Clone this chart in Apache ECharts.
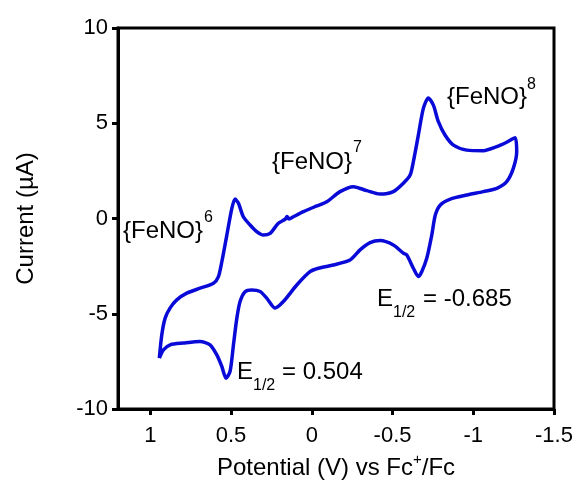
<!DOCTYPE html>
<html>
<head>
<meta charset="utf-8">
<script src="https://cdn.jsdelivr.net/npm/echarts@6/dist/echarts.min.js"></script>
<style>
  html, body { margin: 0; padding: 0; background: #fff; }
  #chart { width: 579px; height: 481px; }
</style>
</head>
<body>
<div id="chart"></div>
<script>
// Cyclic voltammogram: forward sweep (toward negative potential) and return sweep
const forwardPotential = [0.944, 0.929, 0.908, 0.877, 0.836, 0.774, 0.692, 0.609, 0.578, 0.557,
  0.526, 0.495, 0.475, 0.454, 0.424, 0.382, 0.341, 0.300, 0.258, 0.207,
  0.165, 0.153, 0.141, 0.114, 0.052, -0.031, -0.093, -0.175, -0.258, -0.341,
  -0.423, -0.505, -0.567, -0.609, -0.629, -0.660, -0.691, -0.722, -0.753, -0.784,
  -0.825, -0.877, -0.960, -1.063, -1.146, -1.207, -1.259];
const forwardCurrent = [-7.33, -6.11, -5.23, -4.69, -4.27, -3.92, -3.66, -3.40, -3.05, -2.27,
  -0.87, 0.53, 1.02, 0.80, 0.09, -0.34, -0.69, -0.87, -0.78, -0.25,
  -0.04, 0.10, -0.03, 0.09, 0.36, 0.66, 0.88, 1.41, 1.67, 1.46,
  1.28, 1.41, 1.85, 2.28, 2.98, 4.38, 5.78, 6.33, 5.95, 5.08,
  4.38, 3.85, 3.59, 3.56, 3.77, 4.00, 4.24];

const reversePotential = [-1.269, -1.248, -1.207, -1.146, -1.063, -0.960, -0.858, -0.796, -0.765, -0.743,
  -0.712, -0.681, -0.660, -0.629, -0.588, -0.567, -0.505, -0.423, -0.361, -0.299,
  -0.237, -0.134, -0.041, 0.011, 0.093, 0.176, 0.227, 0.279, 0.320, 0.372,
  0.413, 0.444, 0.464, 0.485, 0.506, 0.531, 0.557, 0.588, 0.630, 0.692,
  0.795, 0.877, 0.919, 0.944];
const reverseCurrent = [3.50, 2.63, 1.93, 1.58, 1.41, 1.23, 1.02, 0.71, 0.18, -0.87,
  -2.09, -2.79, -3.05, -2.61, -1.91, -1.82, -1.39, -1.16, -1.27, -1.65,
  -2.18, -2.44, -2.61, -2.79, -3.49, -4.36, -4.70, -4.18, -3.83, -3.75,
  -3.84, -4.36, -5.23, -6.63, -8.03, -8.38, -7.77, -7.16, -6.63, -6.46,
  -6.54, -6.63, -6.90, -7.33];

const xTicks = [-1.5, -1, -0.5, 0, 0.5, 1];
const yTicks = [-10, -5, 0, 5, 10];

const sweep = forwardPotential.map((v, i) => [v, forwardCurrent[i]])
  .concat(reversePotential.map((v, i) => [v, reverseCurrent[i]]));

const FONT = "'Liberation Sans', Arial, Helvetica, sans-serif";
const chart = echarts.init(document.getElementById('chart'), null, { renderer: 'canvas' });

function label(text, left, cy, size) {
  return {
    type: 'text', left: left, top: cy - size / 2,
    style: { text: text, font: size + 'px ' + FONT, fill: '#000', textVerticalAlign: 'top' }
  };
}

chart.setOption({
  animation: false,
  backgroundColor: '#fff',
  grid: {
    left: 118, right: 25, top: 28, bottom: 72,
    outerBoundsMode: 'none', containLabel: false,
    show: true, borderColor: '#000', borderWidth: 3
  },
  xAxis: {
    type: 'value', inverse: true, min: -1.5, max: 1.2, interval: 0.5,
    name: 'Potential (V) vs Fc{sup|+}/Fc', nameLocation: 'middle', nameGap: 40,
    nameTextStyle: {
      fontFamily: FONT, fontSize: 24, color: '#000', lineHeight: 32,
      rich: { sup: { fontFamily: FONT, fontSize: 15, color: '#000', lineHeight: 14, verticalAlign: 'top' } }
    },
    axisLine: { onZero: false, lineStyle: { color: '#000', width: 3 } },
    axisTick: { inside: false, length: 6, lineStyle: { color: '#000', width: 3 }, customValues: xTicks },
    axisLabel: { fontFamily: FONT, fontSize: 22, color: '#000', margin: 16, customValues: xTicks },
    splitLine: { show: false }
  },
  yAxis: {
    type: 'value', min: -10, max: 10, interval: 5,
    name: 'Current (µA)', nameLocation: 'middle', nameGap: 80,
    nameTextStyle: { fontFamily: FONT, fontSize: 24, color: '#000' },
    axisLine: { onZero: false, lineStyle: { color: '#000', width: 3 } },
    axisTick: { inside: false, length: 6, lineStyle: { color: '#000', width: 3 }, customValues: yTicks },
    axisLabel: { fontFamily: FONT, fontSize: 22, color: '#000', margin: 10, customValues: yTicks },
    splitLine: { show: false }
  },
  series: [{
    type: 'line',
    data: sweep,
    showSymbol: false,
    smooth: 0.25,
    lineStyle: { color: '#0a0ad8', width: 3.5 },
    z: 3
  }],
  graphic: [
    label('{FeNO}', 123, 231, 24), label('6', 204, 218, 16),
    label('{FeNO}', 272, 162, 24), label('7', 353, 148, 16),
    label('{FeNO}', 447, 97, 24), label('8', 527, 85, 16),
    label('E', 377, 299, 24), label('1/2', 393, 313, 16), label('= -0.685', 423, 299, 24),
    label('E', 237, 372, 24), label('1/2', 253, 386, 16), label('= 0.504', 282, 372, 24)
  ]
});
</script>
</body>
</html>
